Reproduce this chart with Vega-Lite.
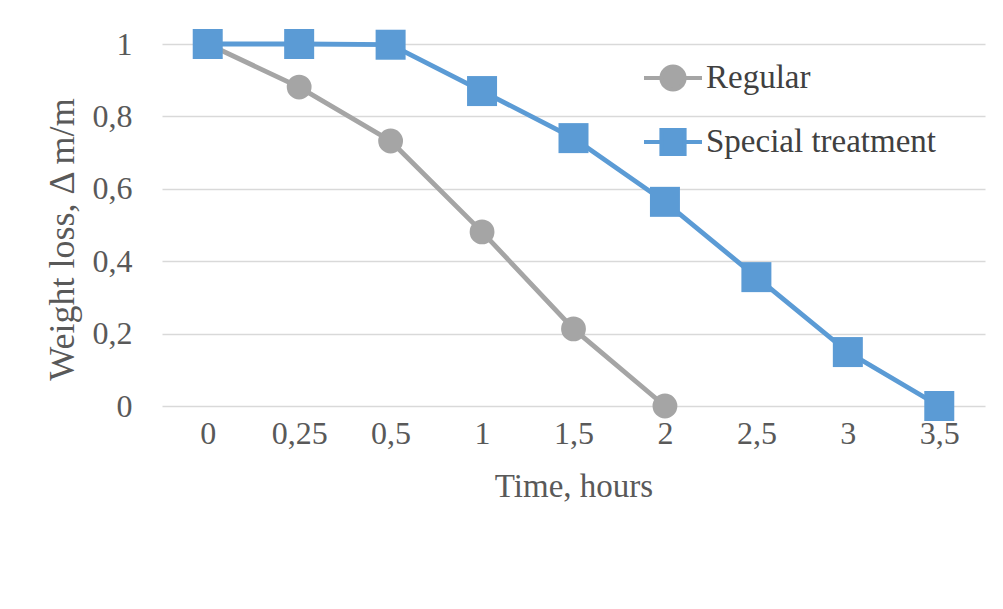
{
  "$schema": "https://vega.github.io/schema/vega-lite/v6.json",
  "width": 823,
  "height": 362,
  "autosize": {"type": "none"},
  "padding": {"left": 162, "top": 44, "right": 18, "bottom": 203},
  "background": "white",
  "config": {
    "view": {"stroke": null},
    "font": "Liberation Serif",
    "axis": {"labelFont": "Liberation Serif", "titleFont": "Liberation Serif", "labelColor": "#595959", "titleColor": "#595959", "titleFontWeight": "normal"}
  },
  "data": {
    "values": [
      {"t": 0, "series": "Regular", "v": 1},
      {"t": 0.25, "series": "Regular", "v": 0.881},
      {"t": 0.5, "series": "Regular", "v": 0.732},
      {"t": 1, "series": "Regular", "v": 0.481},
      {"t": 1.5, "series": "Regular", "v": 0.213},
      {"t": 2, "series": "Regular", "v": 0},
      {"t": 0, "series": "Special treatment", "v": 1},
      {"t": 0.25, "series": "Special treatment", "v": 1},
      {"t": 0.5, "series": "Special treatment", "v": 0.998},
      {"t": 1, "series": "Special treatment", "v": 0.87},
      {"t": 1.5, "series": "Special treatment", "v": 0.74},
      {"t": 2, "series": "Special treatment", "v": 0.564},
      {"t": 2.5, "series": "Special treatment", "v": 0.356},
      {"t": 3, "series": "Special treatment", "v": 0.149},
      {"t": 3.5, "series": "Special treatment", "v": 0}
    ]
  },
  "encoding": {
    "x": {
      "field": "t", "type": "ordinal",
      "axis": {"title": "Time, hours", "labelAngle": 0, "ticks": false, "domain": false, "grid": false, "labelFontSize": 32, "titleFontSize": 33, "labelPadding": 12, "titlePadding": 21, "labelExpr": "replace(datum.label, '.', ',')"}
    },
    "y": {
      "field": "v", "type": "quantitative",
      "scale": {"domain": [0, 1], "nice": false},
      "axis": {"title": "Weight loss, Δ m/m", "values": [0, 0.2, 0.4, 0.6, 0.8, 1], "ticks": false, "domain": false, "grid": true, "gridColor": "#D9D9D9", "gridWidth": 1.5, "labelFontSize": 32, "titleFontSize": 36, "labelPadding": 30, "titlePadding": 11, "titleY": 195, "labelExpr": "replace(format(datum.value, '~g'), '.', ',')"}
    },
    "color": {
      "field": "series", "type": "nominal",
      "scale": {"domain": ["Regular", "Special treatment"], "range": ["#A5A5A5", "#5B9BD5"]},
      "legend": {
        "title": null, "orient": "none", "legendX": 480, "legendY": 3,
        "labelFont": "Liberation Serif", "labelFontSize": 33, "labelColor": "#404040", "labelOffset": 2, "labelLimit": 0,
        "symbolSize": 3364, "rowPadding": 13, "symbolStrokeWidth": 4,
        "encode": {
          "symbols": {
            "update": {
              "shape": {"signal": "datum.value === 'Regular' ? 'M-1,0L-0.4,0A0.4,0.4,0,1,1,0.4,0A0.4,0.4,0,1,1,-0.4,0M0.4,0L1,0' : 'M-1,0L-0.4,0L-0.4,-0.41L0.4,-0.41L0.4,0.41L-0.4,0.41L-0.4,0M0.4,0L1,0'"},
              "fill": {"signal": "scale('color', datum.value)"},
              "stroke": {"signal": "scale('color', datum.value)"},
              "strokeWidth": {"value": 4},
              "size": {"value": 3364}
            }
          }
        }
      }
    }
  },
  "layer": [
    {"mark": {"type": "line", "strokeWidth": 4.8}},
    {
      "transform": [{"filter": "datum.series === 'Regular'"}],
      "mark": {"type": "point", "filled": true, "opacity": 1, "shape": "circle", "size": 616}
    },
    {
      "transform": [{"filter": "datum.series === 'Special treatment'"}],
      "mark": {"type": "point", "filled": true, "opacity": 1, "shape": "square", "size": 900}
    }
  ]
}
